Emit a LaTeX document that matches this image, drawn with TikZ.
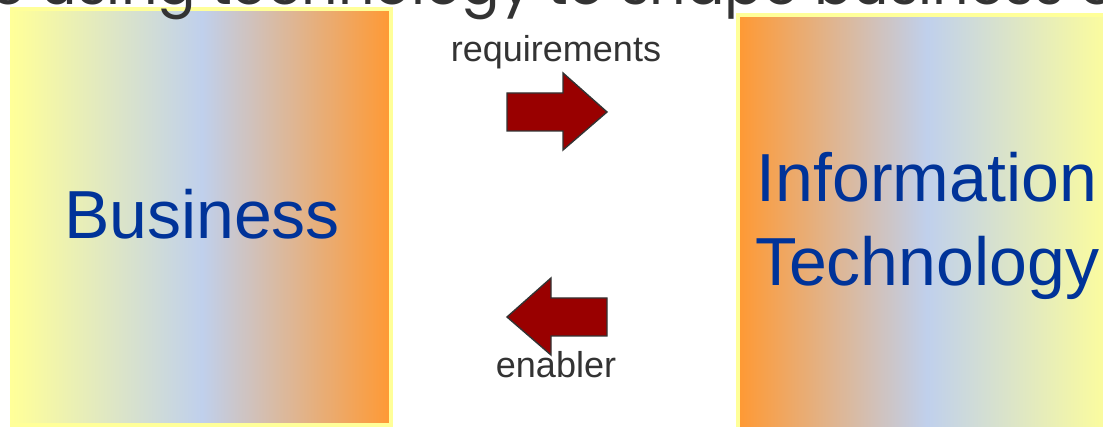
\documentclass[tikz,border=0pt]{standalone}
\usepackage{fontspec}
\setmainfont{Liberation Sans}
\newfontfamily\titlefont{Poppins}
\definecolor{byellow}{HTML}{FFFF99}
\definecolor{bblue}{HTML}{C0D0EC}
\definecolor{borange}{HTML}{FF9933}
\definecolor{txtblue}{HTML}{003399}
\definecolor{txtgray}{HTML}{333333}
\definecolor{arrowred}{HTML}{990000}
\tikzset{
  gradbox/.style={draw=byellow, line width=4.5pt, inner sep=0pt, outer sep=0pt,
    minimum width=379pt, minimum height=416pt},
  bigtext/.style={text=txtblue, font=\fontsize{68}{84}\selectfont, inner sep=0pt},
  smalltext/.style={text=txtgray, font=\fontsize{36}{40}\selectfont, inner sep=0pt},
  titletext/.style={text=txtgray, font=\titlefont\fontsize{57}{62}\selectfont, inner sep=0pt},
  blockarrow/.style={fill=arrowred, draw=txtgray, line width=1.4pt, line join=miter}
}
\begin{document}
\begin{tikzpicture}[x=1pt,y=-1pt]
\useasboundingbox (0,0) rectangle (1103,427);
\clip (0,0) rectangle (1103,427);
\node[gradbox, left color=byellow, right color=borange, middle color=bblue] (business) at (201.5,217) {};
\node[gradbox, left color=borange, right color=byellow, middle color=bblue] (it) at (927.5,223) {};
\node[bigtext, anchor=base] (businesslabel) at (202,239) {Business};
\node[bigtext, align=center, anchor=base] (itlabel) at (927,286) {Information\\Technology};
\node[titletext, anchor=base west] (title) at (-10,5) {e using technology to shape business e};
\draw[blockarrow] (507,93) coordinate (ra) -- (563,93) -- (563,73) -- (607,112) -- (563,150) -- (563,131) -- (507,131) -- cycle;
\draw[blockarrow] (607,298) coordinate (la) -- (551,298) -- (551,278) -- (507,317) -- (551,355) -- (551,336) -- (607,336) -- cycle;
\node[smalltext, anchor=base] (req) at (556,62) {requirements};
\node[smalltext, anchor=base] (enab) at (556,378) {enabler};
\end{tikzpicture}
\end{document}
